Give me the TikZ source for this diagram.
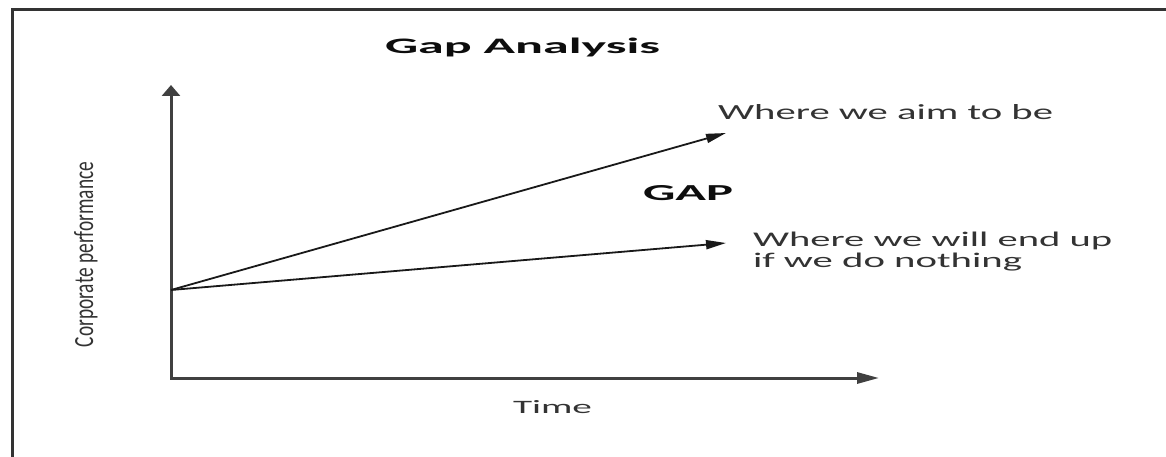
\documentclass[tikz,border=0pt]{standalone}
\usepackage{fontspec}
\setmainfont{Carlito}
\usetikzlibrary{arrows.meta}
\tikzset{
  frameline/.style={line width=3pt, draw=black!80},
  axisline/.style={line width=3pt, draw=black!75},
  trend/.style={line width=1.8pt, draw=black!90},
  lbl/.style={inner sep=0pt, outer sep=0pt, anchor=base west, text=black!80},
  boldlbl/.style={lbl, text=black!95},
}
\begin{document}
\begin{tikzpicture}[x=1pt,y=-1pt]
\useasboundingbox (0,0) rectangle (1166,457);
\fill[white] (0,0) rectangle (1166,457);
\draw[frameline] (12,457) -- (12,10) -- (1166,10);
\coordinate (O) at (171,378);
\coordinate (ytip) at (171,85);
\coordinate (xtip) at (879,378);
\coordinate (start) at (171,290);
\coordinate (aim) at (726,133);
\coordinate (nothing) at (726,243);
\draw[axisline, {Triangle[length=11pt,width=18pt]}-{Triangle[length=22pt,width=11pt]}] (ytip) -- (O) -- (xtip);
\draw[trend, -{Triangle[length=20pt,width=9pt]}] (start) -- (aim);
\draw[trend, -{Triangle[length=20pt,width=9pt]}] (start) -- (nothing);
\node[boldlbl] (title) at (385,53.5) {\resizebox{275pt}{15.5pt}{\bfseries Gap Analysis}};
\node[boldlbl] (gap) at (643,200) {\resizebox{90pt}{15pt}{\bfseries GAP}};
\node[lbl] (aimlbl) at (718,120) {\resizebox{335pt}{15pt}{Where we aim to be}};
\node[lbl] (endlbl) at (753,246.5) {\resizebox{359pt}{14.5pt}{Where we will end up}};
\node[lbl] (nothinglbl) at (753,267) {\resizebox{269pt}{14.5pt}{if we do nothing}};
\node[lbl] (time) at (513,413) {\resizebox{79pt}{13pt}{Time}};
\node[lbl, rotate=90] (ylbl) at (93,347) {\resizebox{185pt}{19pt}{Corporate performance}};
\end{tikzpicture}
\end{document}
